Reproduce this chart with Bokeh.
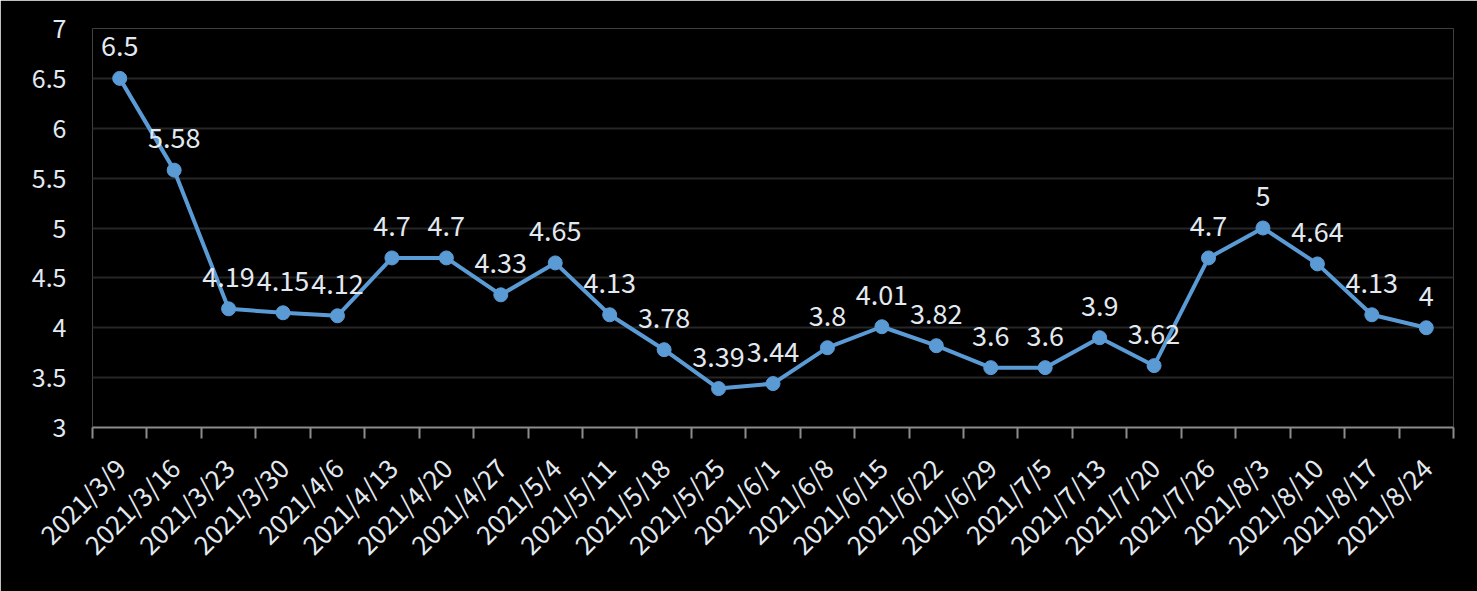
from bokeh.plotting import figure
from bokeh.models import ColumnDataSource, FixedTicker, Range1d, LabelSet
from bokeh.embed import file_html
from bokeh.resources import INLINE
from bokeh.core.properties import value
import math

dates = ["2021/3/9", "2021/3/16", "2021/3/23", "2021/3/30", "2021/4/6", "2021/4/13",
         "2021/4/20", "2021/4/27", "2021/5/4", "2021/5/11", "2021/5/18", "2021/5/25",
         "2021/6/1", "2021/6/8", "2021/6/15", "2021/6/22", "2021/6/29", "2021/7/5",
         "2021/7/13", "2021/7/20", "2021/7/26", "2021/8/3", "2021/8/10", "2021/8/17",
         "2021/8/24"]
values = [6.5, 5.58, 4.19, 4.15, 4.12, 4.7, 4.7, 4.33, 4.65, 4.13, 3.78, 3.39,
          3.44, 3.8, 4.01, 3.82, 3.6, 3.6, 3.9, 3.62, 4.7, 5, 4.64, 4.13, 4]
value_labels = ["6.5", "5.58", "4.19", "4.15", "4.12", "4.7", "4.7", "4.33", "4.65",
                "4.13", "3.78", "3.39", "3.44", "3.8", "4.01", "3.82", "3.6", "3.6",
                "3.9", "3.62", "4.7", "5", "4.64", "4.13", "4"]
y_ticks = [3, 3.5, 4, 4.5, 5, 5.5, 6, 6.5, 7]

n = len(dates)
xs = [i + 0.5 for i in range(n)]
src = ColumnDataSource(dict(x=xs, y=values, lab=value_labels))

FONT = "Noto Sans CJK SC"
TXT = "#e3e9f0"

p = figure(width=1477, height=591, output_backend="svg", toolbar_location=None,
           x_range=Range1d(0, n), y_range=Range1d(3, 7),
           background_fill_color="black", border_fill_color="black",
           min_border_left=92, min_border_right=24, min_border_top=28, min_border_bottom=164)
p.outline_line_color = None

p.line("x", "y", source=src, line_color="#5b9bd5", line_width=4)
p.scatter("x", "y", source=src, size=14, fill_color="#5b9bd5", line_color="#5b9bd5")

labels = LabelSet(x="x", y="y", text="lab", source=src, text_align="center",
                  text_baseline="bottom", y_offset=22, text_color=TXT,
                  text_font=value(FONT), text_font_size="27px")
p.add_layout(labels)

# x axis
p.xaxis.ticker = FixedTicker(ticks=xs, minor_ticks=list(range(n + 1)))
p.xaxis.major_label_overrides = {x: d for x, d in zip(xs, dates)}
p.xaxis.major_label_orientation = math.pi / 4
p.xaxis.major_tick_out = 0
p.xaxis.major_tick_in = 0
p.xaxis.minor_tick_out = 11
p.xaxis.minor_tick_in = 0
p.xaxis.minor_tick_line_color = "#8c8c8c"
p.xaxis.minor_tick_line_width = 2
p.xaxis.axis_line_color = "#8c8c8c"
p.xaxis.axis_line_width = 2
p.xaxis.major_label_text_color = TXT
p.xaxis.major_label_text_font = FONT
p.xaxis.major_label_text_font_size = "26px"
p.xaxis.major_label_standoff = 24

# y axis
p.yaxis.ticker = FixedTicker(ticks=y_ticks)
p.yaxis.axis_line_color = None
p.yaxis.major_tick_line_color = None
p.yaxis.minor_tick_line_color = None
p.yaxis.major_label_text_color = TXT
p.yaxis.major_label_text_font = FONT
p.yaxis.major_label_text_font_size = "25px"
p.yaxis.major_label_standoff = 20

p.xgrid.grid_line_color = None
p.ygrid.ticker = FixedTicker(ticks=y_ticks)
p.ygrid.grid_line_color = "#262626"
p.ygrid.grid_line_width = 2

open("out.html", "w").write(file_html(p, INLINE))
